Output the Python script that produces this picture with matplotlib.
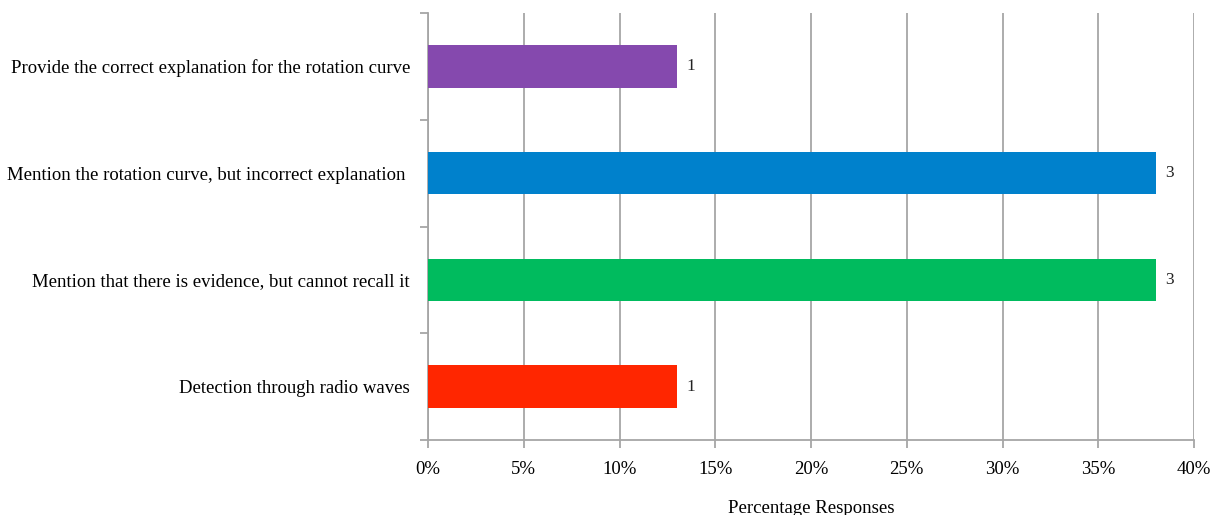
import matplotlib
matplotlib.use("Agg")
import matplotlib.pyplot as plt
from matplotlib.ticker import FixedLocator

plt.rcParams['font.family'] = ['Liberation Serif', 'DejaVu Serif']

categories = [
    "Detection through radio waves",
    "Mention that there is evidence, but cannot recall it",
    "Mention the rotation curve, but incorrect explanation ",
    "Provide the correct explanation for the rotation curve",
]
percentages = [13, 38, 38, 13]
counts = [1, 3, 3, 1]
colors = ["#FF2600", "#00BB5E", "#0081CC", "#8549AE"]
x_ticks = [0, 5, 10, 15, 20, 25, 30, 35, 40]
x_tick_labels = [f"{t}%" for t in x_ticks]

fig = plt.figure(figsize=(12.14, 5.15), dpi=100)
ax = fig.add_axes([428 / 1214, 75 / 515, (1194 - 428) / 1214, (440 - 13) / 515])

grid_color = "#A6A6A6"
ypos = list(range(len(categories)))
ax.barh(ypos, percentages, height=0.4, color=colors, zorder=3)

for y, p, c in zip(ypos, percentages, counts):
    ax.text(p + 0.5, y, str(c), va="center", ha="left", fontsize=12.5, color="#222222")

ax.set_xlim(0, 40)
ax.set_ylim(-0.5, len(categories) - 0.5)
ax.set_xticks(x_ticks)
ax.set_xticklabels(x_tick_labels, fontsize=13.5)
ax.xaxis.grid(True, color=grid_color, linewidth=1.3, zorder=0)

ax.set_yticks(ypos)
ax.set_yticklabels(categories, fontsize=13.5)
ax.tick_params(axis="y", length=0, pad=13)
ax.yaxis.set_minor_locator(FixedLocator([i - 0.5 for i in range(len(categories) + 1)]))
ax.tick_params(axis="y", which="minor", length=6, width=1.3, color=grid_color, direction="out")
ax.tick_params(axis="x", length=6, width=1.3, color=grid_color, direction="out", pad=9)

for side in ("top", "right"):
    ax.spines[side].set_visible(False)
for side in ("left", "bottom"):
    ax.spines[side].set_color(grid_color)
    ax.spines[side].set_linewidth(1.3)

ax.set_xlabel("Percentage Responses", fontsize=13.5, labelpad=16)

fig.savefig("out.png", dpi=100, facecolor="white")
